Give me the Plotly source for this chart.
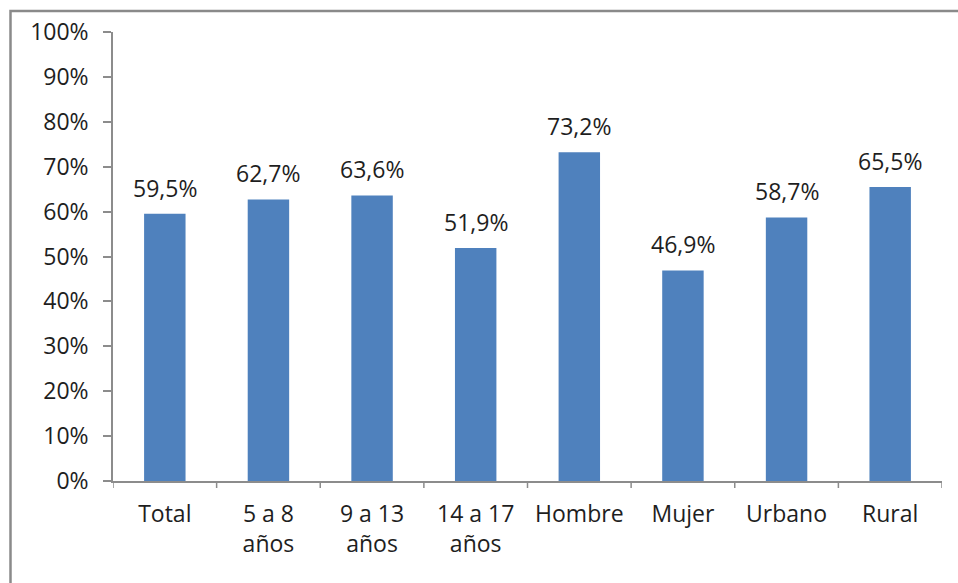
import plotly.graph_objects as go

categories = ["Total", "5 a 8<br>años", "9 a 13<br>años", "14 a 17<br>años",
              "Hombre", "Mujer", "Urbano", "Rural"]
values = [59.5, 62.7, 63.6, 51.9, 73.2, 46.9, 58.7, 65.5]
tick_vals = [0, 10, 20, 30, 40, 50, 60, 70, 80, 90, 100]
tick_text = [f"{v}%" for v in tick_vals]

FONT = "Open Sans"
SIZE = 23
TXT = "#1e1e1e"
AXIS = "#8c8c8c"

fig = go.Figure(go.Bar(
    x=list(range(len(categories))),
    y=values,
    marker=dict(color="#4F81BD", line=dict(width=0)),
    hoverinfo="skip",
))

for i, v in enumerate(values):
    fig.add_annotation(
        x=i, y=v, text=f"{v:.1f}%".replace(".", ","),
        showarrow=False, yanchor="bottom", yshift=8,
        font=dict(family=FONT, size=SIZE, color=TXT),
    )

fig.update_layout(
    width=958, height=583,
    margin=dict(l=113, r=16, t=32, b=102),
    paper_bgcolor="white", plot_bgcolor="white",
    bargap=0.6, showlegend=False,
    font=dict(family=FONT, size=SIZE, color=TXT),
    xaxis=dict(
        range=[-0.5, len(categories) - 0.5],
        tickvals=list(range(len(categories))), ticktext=categories,
        showgrid=False, zeroline=False,
        showline=True, linecolor=AXIS, linewidth=1.5,
        ticks="", ticklabelstandoff=12,
        tickfont=dict(family=FONT, size=SIZE, color=TXT),
    ),
    yaxis=dict(
        range=[0, 100], tickvals=tick_vals, ticktext=tick_text,
        showgrid=False, zeroline=False,
        showline=True, linecolor=AXIS, linewidth=1.5,
        ticks="outside", ticklen=8, tickcolor=AXIS, tickwidth=1.5,
        ticklabelstandoff=10,
        tickfont=dict(family=FONT, size=SIZE, color=TXT),
    ),
)

# category separators on the x axis
for b in [i - 0.5 for i in range(len(categories) + 1)]:
    fig.add_shape(type="line", xref="x", yref="paper",
                  x0=b, x1=b, y0=0, y1=-7 / 449,
                  line=dict(color=AXIS, width=1.5))

# chart border (top and left edges)
pw, ph = 958 - 113 - 16, 583 - 32 - 102
fig.add_shape(type="rect", xref="paper", yref="paper",
              x0=(10.5 - 113) / pw, x1=(990 - 113) / pw,
              y0=(481 - 620) / ph, y1=(481 - 11) / ph,
              line=dict(color="#8a8a8a", width=2.5), layer="below")

fig.write_html("out.html")
